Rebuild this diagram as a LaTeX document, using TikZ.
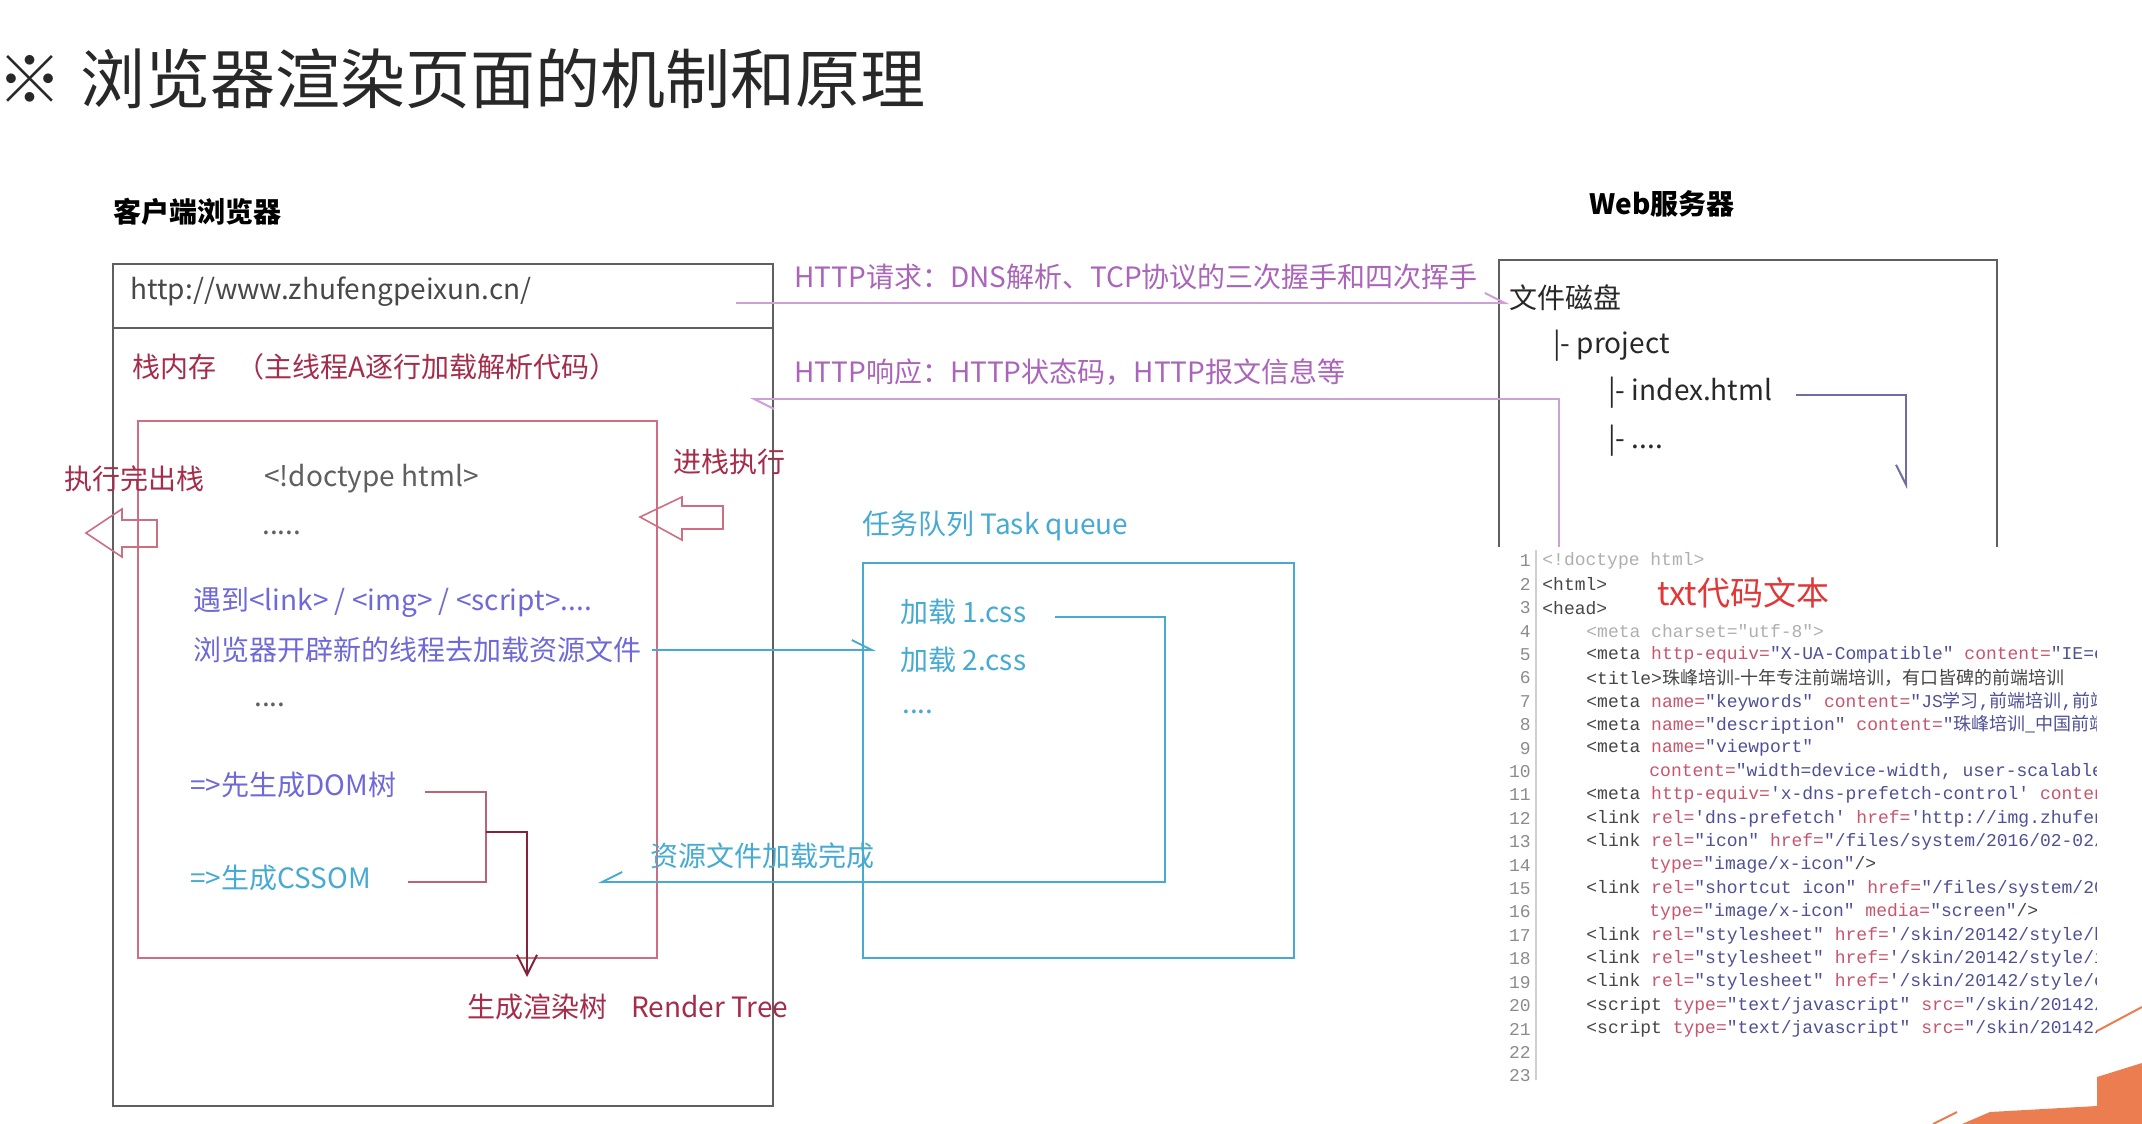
\documentclass[tikz,border=0pt]{standalone}
\usepackage{fontspec}
\setmainfont{Noto Sans CJK SC}
\setmonofont{Liberation Mono}
\newfontfamily\cjk{Noto Sans CJK SC}
\usetikzlibrary{arrows.meta,calc}

\definecolor{titlegray}{RGB}{40,40,40}
\definecolor{boxgray}{RGB}{95,95,95}
\definecolor{stackred}{RGB}{205,110,130}
\definecolor{darkred}{RGB}{165,45,75}
\definecolor{linkblue}{RGB}{110,105,215}
\definecolor{queuecyan}{RGB}{70,170,210}
\definecolor{httppurple}{RGB}{170,100,185}
\definecolor{httpline}{RGB}{205,160,215}
\definecolor{idxline}{RGB}{110,110,165}
\definecolor{slideorange}{RGB}{236,125,80}
\definecolor{codetag}{RGB}{70,70,70}
\definecolor{codeattr}{RGB}{200,85,110}
\definecolor{codestr}{RGB}{80,80,150}
\definecolor{codelight}{RGB}{175,175,175}
\definecolor{codenum}{RGB}{140,140,140}

\newcommand{\ctag}[1]{\textcolor{codetag}{#1}}
\newcommand{\cattr}[1]{\textcolor{codeattr}{#1}}
\newcommand{\cstr}[1]{\textcolor{codestr}{#1}}
\newcommand{\codeline}[3]{\node[codetext] (code#1) at (#2,{561+(#1-1)*23.4}) {#3};}

\begin{document}
\begin{tikzpicture}[x=0.5pt,y=-0.5pt,
  lbl/.style={inner sep=0,anchor=west,font=\fontsize{14}{16}\selectfont},
  codetext/.style={inner sep=0,anchor=west,font=\ttfamily\fontsize{9}{10}\selectfont,text=codetag},
  lineno/.style={inner sep=0,anchor=east,font=\ttfamily\fontsize{9}{10}\selectfont,text=codenum},
  barb/.style={-{Straight Barb[harpoon,length=10pt,width=10pt]}},
  barbswap/.style={-{Straight Barb[harpoon,swap,length=10pt,width=10pt]}},
  httpl/.style={httpline,line width=1pt},
  cyanl/.style={queuecyan,line width=1pt},
  hollow/.style={stackred,line width=0.8pt}]
\useasboundingbox (0,0) rectangle (2142,1124);

% title and headings
\node[lbl,font=\fontsize{32.5}{36}\selectfont,text=titlegray] (title) at (-3,79) {※\hspace{9pt}浏览器渲染页面的机制和原理};
\node[lbl,font=\bfseries\fontsize{14}{16}\selectfont] (client) at (113,212) {客户端浏览器};
\node[lbl,font=\bfseries\fontsize{14}{16}\selectfont] (server) at (1589,204) {Web服务器};

% browser
\draw[boxgray,line width=1.2pt] (113,264) rectangle (773,1106);
\draw[boxgray,line width=1.2pt] (113,328) -- (773,328);
\node[lbl,text=titlegray!85] (url) at (130,292) {http://www.zhufengpeixun.cn/};
\node[lbl,text=darkred] (stackmem) at (132,367) {栈内存\hspace{10pt}（主线程A逐行加载解析代码）};
\draw[stackred,line width=1pt] (138,421) rectangle (657,958);

\node[lbl,text=darkred] (popout) at (64,479) {执行完出栈};
\node[lbl,text=darkred] (pushin) at (673,462) {进栈执行};
\draw[hollow] (86,533) -- (122,509) -- (122,520) -- (157,520) -- (157,547) -- (122,547) -- (122,557) -- cycle;
\draw[hollow] (640,517) -- (682,497) -- (682,506) -- (723,506) -- (723,529) -- (682,529) -- (682,540) -- cycle;

\node[lbl,text=boxgray] (doctype) at (264,479) {<!doctype html>};
\node[lbl,text=boxgray] (dots1) at (262,533) {.....};
\node[lbl,text=linkblue] (meet) at (193,602) {遇到<link> / <img> / <script>....};
\node[lbl,text=linkblue] (thread) at (193,650) {浏览器开辟新的线程去加载资源文件};
\node[lbl,text=boxgray] (dots2) at (254,705) {....};
\node[lbl,text=linkblue] (dom) at (190,785) {=>先生成DOM树};
\node[lbl,text=queuecyan] (cssom) at (190,878) {=>生成CSSOM};
\node[lbl,text=darkred] (render) at (467,1007) {生成渲染树\hspace{12pt}Render Tree};

\coordinate (domr) at (425,792);
\coordinate (brk) at (486,882);
\coordinate (cssomr) at (408,882);
\draw[stackred!90!black,line width=1pt] (domr) -| (brk) -- (cssomr);
\coordinate (mid) at (486,832);
\coordinate (rendertip) at (527,977);
\draw[darkred!80!black,line width=1pt,-{Straight Barb[length=10pt,width=10pt]}] (mid) -| (rendertip);

% task queue
\node[lbl,text=queuecyan] (queuelbl) at (862,526) {任务队列 Task queue};
\draw[queuecyan,line width=1.2pt] (863,563) rectangle (1294,958);
\node[lbl,text=queuecyan] (css1) at (900,612) {加载 1.css};
\node[lbl,text=queuecyan] (css2) at (900,660) {加载 2.css};
\node[lbl,text=queuecyan] (dots3) at (902,712) {....};
\node[lbl,text=queuecyan] (loaded) at (650,856) {资源文件加载完成};

\draw[cyanl,barb] ($(thread.east)+(10,0)$) -- ($(css2.west)+(-24,-10)$);
\coordinate (loadturn) at (1165,882);
\coordinate (loadend) at (598,882);
\draw[cyanl,barbswap] ($(css1.east)+(28,5)$) -| (loadturn) -- (loadend);

% http
\node[lbl,text=httppurple] (reqlbl) at (794,277) {HTTP请求：DNS解析、TCP协议的三次握手和四次挥手};
\node[lbl,text=httppurple] (resplbl) at (794,372) {HTTP响应：HTTP状态码，HTTP报文信息等};

% web server
\draw[boxgray,line width=1.2pt] (1499,547) |- (1997,260) -- (1997,547);
\node[lbl,text=titlegray] (disk) at (1509,298) {文件磁盘};
\node[lbl,text=titlegray] (project) at (1553,346) {|- project};
\node[lbl,text=titlegray] (index) at (1608,393) {|- index.html};
\node[lbl,text=titlegray] (more) at (1608,441) {|- ....};

\coordinate (reqstart) at (736,303);
\draw[httpl,barb] (reqstart) -- (reqstart -| disk.west);
\coordinate (respstart) at (1559,547);
\coordinate (respend) at (750,399);
\draw[httpl,barb] (respstart) |- (respend);
\coordinate (idxend) at (1906,489);
\draw[idxline,line width=1pt,barbswap] ($(index.east)+(23,2)$) -| (idxend);

% code text
\fill[white] (1505,549) rectangle (2100,1082);
\draw[codelight!60,line width=1pt] (1536,550) -- (1536,1080);
\begin{scope}
\clip (1505,549) rectangle (2096,1082);
\foreach \n in {1,...,23}
  \node[lineno] (ln\n) at (1531,{561+(\n-1)*23.4}) {\n};
\codeline{1}{1542}{\textcolor{codelight}{<!doctype html>}}
\codeline{2}{1542}{<html>}
\codeline{3}{1542}{<head>}
\codeline{4}{1586}{\textcolor{codelight}{<meta charset="utf-8">}}
\codeline{5}{1586}{\ctag{<meta} \cattr{http-equiv=}\cstr{"X-UA-Compatible"} \cattr{content=}\cstr{"IE=edge"}>}
\codeline{6}{1586}{\ctag{<title>}{\cjk 珠峰培训-十年专注前端培训，有口皆碑的前端培训}}
\codeline{7}{1586}{\ctag{<meta} \cattr{name=}\cstr{"keywords"} \cattr{content=}\cstr{"JS{\cjk 学习},{\cjk 前端培训},{\cjk 前端}"}}
\codeline{8}{1586}{\ctag{<meta} \cattr{name=}\cstr{"description"} \cattr{content=}\cstr{"{\cjk 珠峰培训\_中国前端}"}}
\codeline{9}{1586}{\ctag{<meta} \cattr{name=}\cstr{"viewport"}}
\codeline{10}{1649}{\cattr{content=}\cstr{"width=device-width, user-scalable=no"}}
\codeline{11}{1586}{\ctag{<meta} \cattr{http-equiv=}\cstr{'x-dns-prefetch-control'} \cattr{content=}\cstr{'on'}>}
\codeline{12}{1586}{\ctag{<link} \cattr{rel=}\cstr{'dns-prefetch'} \cattr{href=}\cstr{'http://img.zhufengpeixun.cn'}>}
\codeline{13}{1586}{\ctag{<link} \cattr{rel=}\cstr{"icon"} \cattr{href=}\cstr{"/files/system/2016/02-02/favicon.ico"}}
\codeline{14}{1649}{\cattr{type=}\cstr{"image/x-icon"}/>}
\codeline{15}{1586}{\ctag{<link} \cattr{rel=}\cstr{"shortcut icon"} \cattr{href=}\cstr{"/files/system/2016/favicon.ico"}}
\codeline{16}{1649}{\cattr{type=}\cstr{"image/x-icon"} \cattr{media=}\cstr{"screen"}/>}
\codeline{17}{1586}{\ctag{<link} \cattr{rel=}\cstr{"stylesheet"} \cattr{href=}\cstr{'/skin/20142/style/base.css'}>}
\codeline{18}{1586}{\ctag{<link} \cattr{rel=}\cstr{"stylesheet"} \cattr{href=}\cstr{'/skin/20142/style/index.css'}>}
\codeline{19}{1586}{\ctag{<link} \cattr{rel=}\cstr{"stylesheet"} \cattr{href=}\cstr{'/skin/20142/style/common.css'}>}
\codeline{20}{1586}{\ctag{<script} \cattr{type=}\cstr{"text/javascript"} \cattr{src=}\cstr{"/skin/20142/js/jquery.js"}>}
\codeline{21}{1586}{\ctag{<script} \cattr{type=}\cstr{"text/javascript"} \cattr{src=}\cstr{"/skin/20142/js/index.js"}>}
\end{scope}
\node[lbl,font=\fontsize{16.5}{18}\selectfont,text={rgb,255:red,225;green,55;blue,55}] (codetitle) at (1657,593) {txt代码文本};

% slide corner
\fill[slideorange] (1990,1112) -- (2097,1106) -- (2097,1077) -- (2142,1063) -- (2142,1124) -- (1962,1124) -- cycle;
\draw[slideorange,line width=1pt] (2097,1031) -- (2142,1007);
\draw[slideorange,line width=1pt] (1933,1124) -- (1957,1112);
\end{tikzpicture}
\end{document}
